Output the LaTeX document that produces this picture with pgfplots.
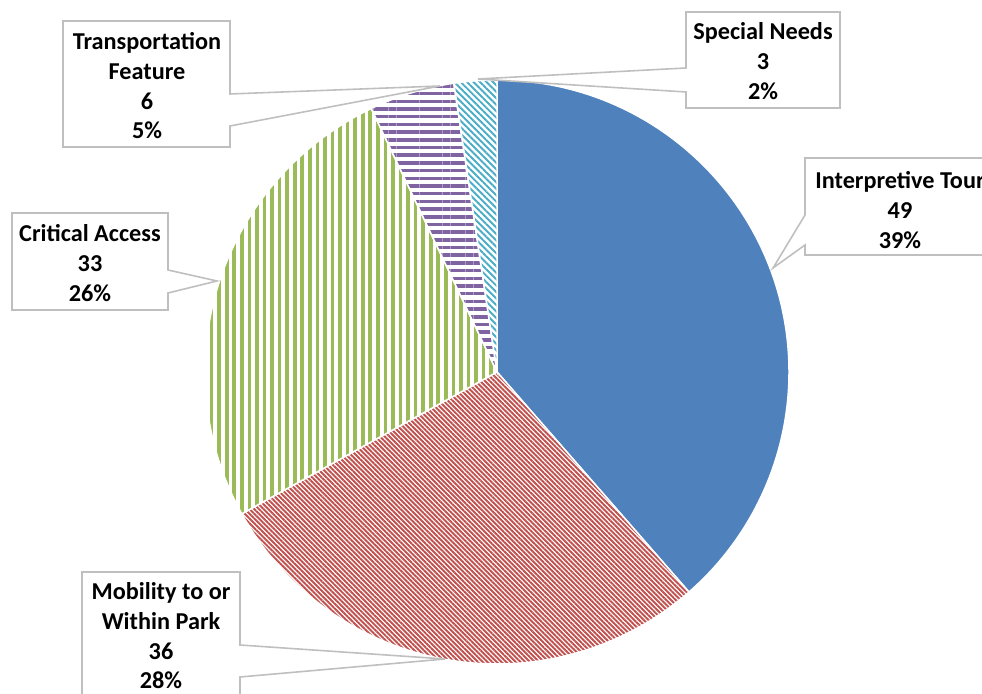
\documentclass[border=0pt]{standalone}
\usepackage{pgfplots}
\pgfplotsset{compat=1.18}
\usetikzlibrary{patterns.meta}
\usepackage{fontspec}
\setmainfont{Carlito}

\definecolor{cBlue}{HTML}{4F81BD}
\definecolor{cRed}{HTML}{C0504D}
\definecolor{cGreen}{HTML}{9BBB59}
\definecolor{cPurple}{HTML}{8064A2}
\definecolor{cTeal}{HTML}{4BACC6}
\definecolor{cBorder}{HTML}{BFBFBF}

% data: Interpretive Tour, Mobility to or Within Park, Critical Access, Transportation Feature, Special Needs
\newcommand{\vA}{49}
\newcommand{\vB}{36}
\newcommand{\vC}{33}
\newcommand{\vD}{6}
\newcommand{\vE}{3}
\pgfmathsetmacro{\tot}{\vA+\vB+\vC+\vD+\vE}
\pgfmathsetmacro{\aA}{90}
\pgfmathsetmacro{\aB}{90-(\vA)/\tot*360}
\pgfmathsetmacro{\aC}{90-(\vA+\vB)/\tot*360}
\pgfmathsetmacro{\aD}{90-(\vA+\vB+\vC)/\tot*360}
\pgfmathsetmacro{\aE}{90-(\vA+\vB+\vC+\vD)/\tot*360}
\pgfmathsetmacro{\aF}{90-(\vA+\vB+\vC+\vD+\vE)/\tot*360}

\newcommand{\slice}[3]{%
  \path[#3] (axis cs:497,372) -- ++(#1:2.92cm) arc[start angle=#1, end angle=#2, radius=2.92cm] -- cycle;}

\begin{document}
\begin{tikzpicture}
\begin{axis}[
  scale only axis, width=9.82cm, height=6.94cm,
  xmin=0, xmax=982, ymin=0, ymax=694, y dir=reverse,
  hide axis, clip=true,
]
\slice{\aA}{\aB}{fill=cBlue, draw=white, line width=0.43pt}
\slice{\aB}{\aC}{pattern={Lines[angle=-45, distance=0.95pt, line width=0.55pt]}, pattern color=cRed, draw=white, line width=0.43pt}
\slice{\aC}{\aD}{pattern={Lines[angle=90, distance=2.15pt, line width=1.05pt]}, pattern color=cGreen, draw=white, line width=0.43pt}
\slice{\aD}{\aE}{pattern={Lines[angle=0, distance=2.19pt, line width=1.0pt]}, pattern color=cPurple, draw=white, line width=0.43pt}
\slice{\aE}{\aF}{pattern={Lines[angle=-45, distance=1.3pt, line width=0.55pt]}, pattern color=cTeal, draw=white, line width=0.43pt}

\tikzset{callout/.style={draw=cBorder, fill=white, line width=0.45pt, line join=miter},
         lab/.style={font=\bfseries\fontsize{6.9pt}{8.45pt}\selectfont, align=center, inner sep=0pt}}
% Transportation Feature
\draw[callout] (axis cs:63,21) -- (axis cs:230,21) -- (axis cs:230,94) -- (axis cs:440,86) -- (axis cs:230,126) -- (axis cs:230,147) -- (axis cs:63,147) -- cycle;
\node[lab] at (axis cs:147,86) {Transportation\\Feature\\6\\5\%};
% Special Needs
\draw[callout] (axis cs:686,12) -- (axis cs:840,12) -- (axis cs:840,108) -- (axis cs:686,108) -- (axis cs:686,92) -- (axis cs:478,79) -- (axis cs:686,68) -- cycle;
\node[lab] at (axis cs:763,61) {Special Needs\\3\\2\%};
% Interpretive Tour
\draw[callout] (axis cs:805,158) -- (axis cs:1000,158) -- (axis cs:1000,255) -- (axis cs:805,255) -- (axis cs:805,245) -- (axis cs:773,268) -- (axis cs:805,215) -- cycle;
\node[lab] at (axis cs:900,210) {Interpretive Tour\\49\\39\%};
% Critical Access
\draw[callout] (axis cs:12,213) -- (axis cs:168,213) -- (axis cs:168,270) -- (axis cs:217,281) -- (axis cs:168,293) -- (axis cs:168,310) -- (axis cs:12,310) -- cycle;
\node[lab] at (axis cs:90,263) {Critical Access\\33\\26\%};
% Mobility
\draw[callout] (axis cs:82,572) -- (axis cs:240,572) -- (axis cs:240,645) -- (axis cs:445,659) -- (axis cs:240,677) -- (axis cs:240,710) -- (axis cs:82,710) -- cycle;
\node[lab] at (axis cs:161,636) {Mobility to or\\Within Park\\36\\28\%};
\end{axis}
\pgfresetboundingbox
\useasboundingbox (0,0) rectangle (9.82cm,6.94cm);
\end{tikzpicture}
\end{document}
